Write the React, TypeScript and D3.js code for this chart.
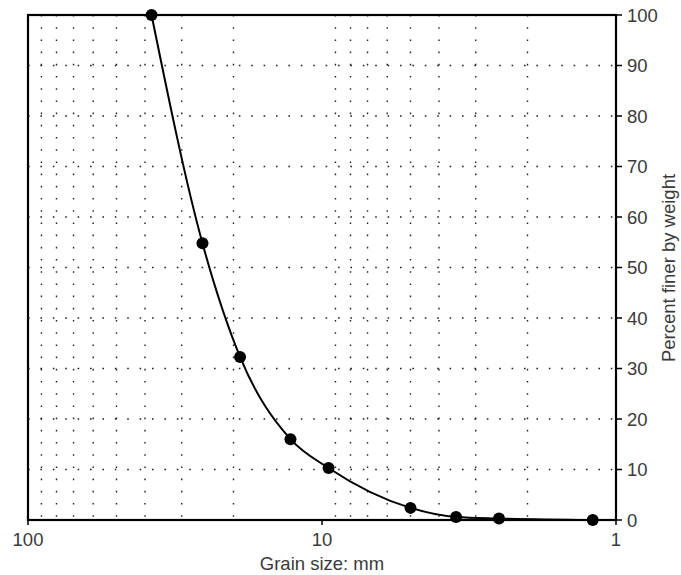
import React from "react";
import * as d3 from "d3";

const grainSize = [38, 25.5, 19, 12.8, 9.5, 5, 3.5, 2.5, 1.2];
const percentFiner = [100, 54.8, 32.3, 16, 10.3, 2.4, 0.6, 0.3, 0];
const xTicks = [100, 10, 1];
const yTicks = [0, 10, 20, 30, 40, 50, 60, 70, 80, 90, 100];
const xGrid = [90, 80, 70, 60, 50, 40, 30, 20, 9, 8, 7, 6, 5, 4, 3, 2];
const yGrid = [10, 20, 30, 40, 50, 60, 70, 80, 90];

export default function App() {
  const W = 681, H = 575;
  const left = 28, right = 616, top = 15, bottom = 520;
  const x = d3.scaleLog().domain([100, 1]).range([left, right]);
  const y = d3.scaleLinear().domain([0, 100]).range([bottom, top]);
  const pts: [number, number][] = grainSize.map((g, i) => [x(g), y(percentFiner[i])]);
  const line = d3.line().curve(d3.curveMonotoneX)(pts) || "";
  const textColor = "#3a3a3a";
  const font = "Liberation Sans, Arial, sans-serif";
  return (
    <svg width={W} height={H} style={{ position: "absolute", left: 0, top: 0 }} fontFamily={font}>
      <rect width={W} height={H} fill="#fff" />
      {xGrid.map((g) => (
        <line key={"xg" + g} x1={x(g)} x2={x(g)} y1={top} y2={bottom} stroke="#222" strokeWidth={1.4} strokeDasharray="1.6,10.6" />
      ))}
      {yGrid.map((g) => (
        <line key={"yg" + g} x1={left} x2={right} y1={y(g)} y2={y(g)} stroke="#222" strokeWidth={1.4} strokeDasharray="1.6,10.8" />
      ))}
      <rect x={left} y={top} width={right - left} height={bottom - top} fill="none" stroke="#000" strokeWidth={2.2} />
      {yTicks.map((t) => (
        <g key={"yt" + t}>
          <line x1={right} x2={right + 6} y1={y(t)} y2={y(t)} stroke="#000" strokeWidth={1.5} />
          <text x={right + 11} y={y(t)} dy="0.36em" fontSize={18.5} fill={textColor}>{t}</text>
        </g>
      ))}
      {xTicks.map((t) => (
        <g key={"xt" + t}>
          <line x1={x(t)} x2={x(t)} y1={bottom} y2={bottom + 5} stroke="#000" strokeWidth={1.5} />
          <text x={x(t)} y={546} textAnchor="middle" fontSize={18.5} fill={textColor}>{t}</text>
        </g>
      ))}
      <text x={(left + right) / 2} y={570} textAnchor="middle" fontSize={18.5} fill={textColor}>Grain size: mm</text>
      <text transform={`translate(675,268) rotate(-90)`} textAnchor="middle" fontSize={18.5} fill={textColor}>Percent finer by weight</text>
      <path d={line} fill="none" stroke="#000" strokeWidth={2} />
      {pts.map((p, i) => (
        <circle key={"p" + i} cx={p[0]} cy={p[1]} r={6} fill="#000" />
      ))}
    </svg>
  );
}
